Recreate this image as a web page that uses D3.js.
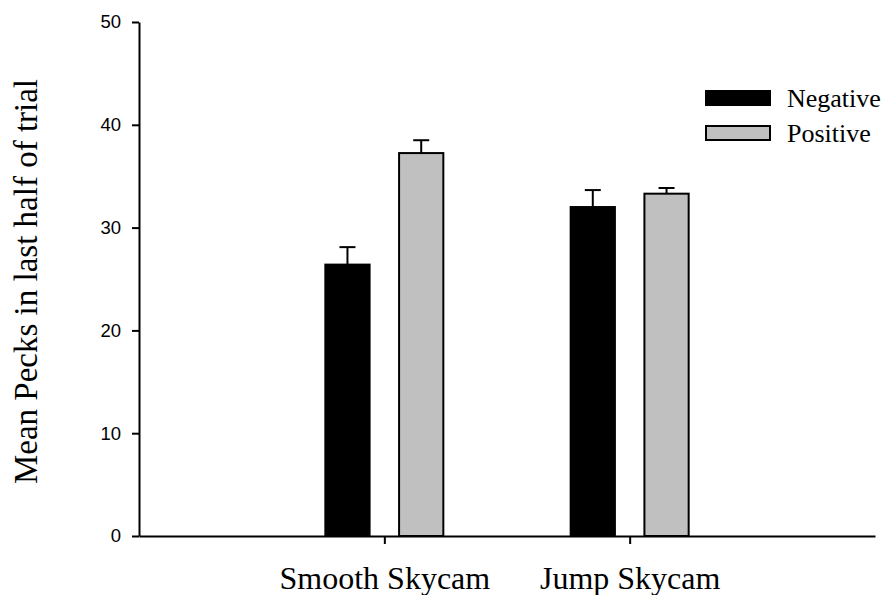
<!DOCTYPE html>
<html>
<head>
<meta charset="utf-8">
<script src="https://cdn.jsdelivr.net/npm/d3@7"></script>
<style>
  body { margin: 0; background: #fff; }
  svg { display: block; }
  .serif { font-family: "Liberation Serif", "DejaVu Serif", serif; }
</style>
</head>
<body>
<svg width="893" height="595"></svg>
<script>
// data
var categories = ["Smooth Skycam", "Jump Skycam"];
var seriesNames = ["Negative", "Positive"];
var negative = [26.4, 32.0];
var negativeErr = [1.7, 1.65];
var positive = [37.25, 33.3];
var positiveErr = [1.25, 0.55];
var yTicks = [0, 10, 20, 30, 40, 50];

var fills = { Negative: "#000000", Positive: "#c0c0c0" };

var svg = d3.select("svg");

var y = d3.scaleLinear().domain([0, 50]).range([536, 22]);
var x = d3.scalePoint().domain(categories).range([139, 875]).padding(1);
var xs = d3.scaleBand().domain(seriesNames).range([-59, 59]).paddingInner(0.4);

// flatten into rows for drawing
var rows = [];
categories.forEach(function (c, i) {
  rows.push({ cat: c, series: "Negative", value: negative[i], err: negativeErr[i] });
  rows.push({ cat: c, series: "Positive", value: positive[i], err: positiveErr[i] });
});

// error bars (upper only, drawn behind bars)
var eb = svg.append("g").attr("class", "errors")
  .attr("stroke", "#000").attr("stroke-width", 2);
rows.forEach(function (d) {
  var cx = x(d.cat) + xs(d.series) + xs.bandwidth() / 2;
  eb.append("line")
    .attr("x1", cx).attr("x2", cx)
    .attr("y1", y(d.value)).attr("y2", y(d.value + d.err));
  eb.append("line")
    .attr("x1", cx - 8).attr("x2", cx + 8)
    .attr("y1", y(d.value + d.err)).attr("y2", y(d.value + d.err));
});

// bars
svg.append("g").attr("class", "bars")
  .selectAll("rect")
  .data(rows)
  .enter().append("rect")
  .attr("x", d => x(d.cat) + xs(d.series))
  .attr("width", xs.bandwidth())
  .attr("y", d => y(d.value))
  .attr("height", d => y(0) - y(d.value))
  .attr("fill", d => fills[d.series])
  .attr("stroke", "#000")
  .attr("stroke-width", 2);

// y axis
var yAxis = svg.append("g")
  .attr("transform", "translate(139,0)")
  .call(d3.axisLeft(y).tickValues(yTicks).tickSize(7).tickPadding(11).tickSizeOuter(0));
yAxis.select(".domain").attr("stroke-width", 2);
yAxis.selectAll(".tick line").attr("stroke-width", 2);
yAxis.selectAll(".tick text")
  .style("font-family", "'Liberation Sans', Arial, sans-serif")
  .style("font-size", "18.5px")
  .attr("fill", "#000");

// x axis
var xAxis = svg.append("g")
  .attr("transform", "translate(0,536)")
  .call(d3.axisBottom(x).tickSize(8).tickPadding(22).tickSizeOuter(0));
xAxis.select(".domain").attr("stroke-width", 2);
xAxis.selectAll(".tick line").attr("stroke-width", 2);
xAxis.selectAll(".tick text")
  .attr("class", "serif")
  .style("font-family", "'Liberation Serif', 'DejaVu Serif', serif")
  .style("font-size", "32px")
  .attr("fill", "#000");

// y axis title
svg.append("text")
  .attr("class", "serif")
  .attr("transform", "translate(37,281.5) rotate(-90)")
  .attr("text-anchor", "middle")
  .style("font-size", "33px")
  .text("Mean Pecks in last half of trial");

// legend
var legend = svg.append("g").attr("class", "legend");
seriesNames.forEach(function (s, i) {
  var ly = 98 + i * 35;
  legend.append("rect")
    .attr("x", 706).attr("y", ly - 7)
    .attr("width", 64).attr("height", 14)
    .attr("fill", fills[s])
    .attr("stroke", "#000").attr("stroke-width", 2);
  legend.append("text")
    .attr("class", "serif")
    .attr("x", 787).attr("y", ly + 9)
    .style("font-size", "26px")
    .text(s);
});
</script>
</body>
</html>
